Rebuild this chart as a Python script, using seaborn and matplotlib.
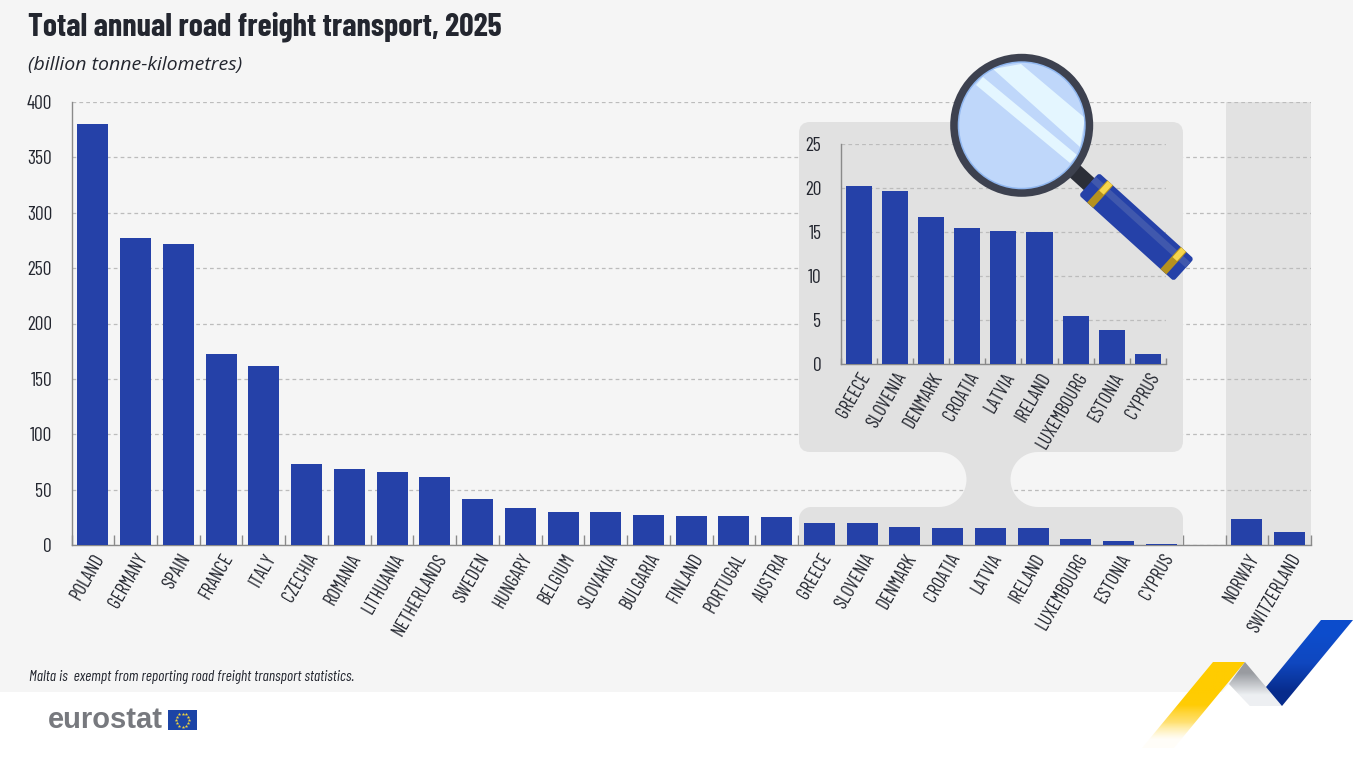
import numpy as np
import pandas as pd
import seaborn as sns
import matplotlib.pyplot as plt
from matplotlib.patches import Circle, FancyBboxPatch, Polygon, Rectangle
from matplotlib.transforms import Affine2D

countries = ["POLAND", "GERMANY", "SPAIN", "FRANCE", "ITALY", "CZECHIA", "ROMANIA", "LITHUANIA",
             "NETHERLANDS", "SWEDEN", "HUNGARY", "BELGIUM", "SLOVAKIA", "BULGARIA", "FINLAND",
             "PORTUGAL", "AUSTRIA", "GREECE", "SLOVENIA", "DENMARK", "CROATIA", "LATVIA", "IRELAND",
             "LUXEMBOURG", "ESTONIA", "CYPRUS", " ", "NORWAY", "SWITZERLAND"]
freight = [380.5, 277, 272, 172.5, 162, 73.5, 69, 66, 61.5, 41.5, 33.5, 29.5, 29.5, 27, 26, 26, 25.5,
           20.2, 19.6, 16.7, 15.4, 15.1, 15.0, 5.5, 3.9, 1.1, np.nan, 23.5, 12]
main_ticks = [0, 50, 100, 150, 200, 250, 300, 350, 400]

small_countries = ["GREECE", "SLOVENIA", "DENMARK", "CROATIA", "LATVIA", "IRELAND",
                   "LUXEMBOURG", "ESTONIA", "CYPRUS"]
small_freight = [20.2, 19.6, 16.7, 15.4, 15.1, 15.0, 5.5, 3.9, 1.1]
small_ticks = [0, 5, 10, 15, 20, 25]

BAR = "#2541a8"
PANEL = "#f5f5f5"
GREY = "#e1e1e1"
DARK = "#23262f"
W, H = 1366, 763

sns.set_theme(style="white")
narrow = ["Barlow Condensed", "Archivo Narrow", "Lato", "DejaVu Sans"]
plt.rcParams["font.family"] = narrow

fig = plt.figure(figsize=(W / 100, H / 100), dpi=100, facecolor="white")
pix = Affine2D().scale(1, -1).translate(0, H)  # pixel coords, y going down


def axes_px(x0, y0, x1, y1, **kw):
    return fig.add_axes([x0 / W, 1 - y1 / H, (x1 - x0) / W, (y1 - y0) / H], **kw)


def draw_bars(ax, names, values, ticks, top, pad, tick_len):
    df = pd.DataFrame({"name": names, "value": values})
    sns.barplot(data=df, x="name", y="value", color=BAR, saturation=1, width=0.725, ax=ax, zorder=3, linewidth=0)
    ax.set_facecolor("none")
    ax.set_xlim(-0.5, len(names) - 0.5)
    ax.set_ylim(0, top)
    ax.set_xlabel("")
    ax.set_ylabel("")
    ax.set_yticks(ticks)
    ax.yaxis.grid(True, color="#bcbcbc", lw=0.9, ls=(0, (3, 2.5)))
    ax.set_axisbelow(True)
    ax.tick_params(axis="y", length=0, pad=pad, labelsize=14, labelcolor=DARK)
    ax.tick_params(axis="x", which="major", length=0, pad=4, labelsize=13.5, labelcolor=DARK)
    ax.set_xticks(np.arange(-0.5, len(names)), minor=True)
    ax.tick_params(axis="x", which="minor", bottom=True, direction="in", length=tick_len, width=1, color="#8a8a8a")
    for lab in ax.get_xticklabels():
        lab.set_rotation(60)
        lab.set_ha("right")
        lab.set_va("top")
        lab.set_rotation_mode("anchor")
    for side in ["top", "right"]:
        ax.spines[side].set_visible(False)
    for side in ["left", "bottom"]:
        ax.spines[side].set_color("#8a8a8a")
        ax.spines[side].set_linewidth(1)


# page background with the notch for the ribbons
bg = axes_px(0, 0, W, H, zorder=0)
bg.set_xlim(0, W)
bg.set_ylim(H, 0)
bg.axis("off")
bg.add_patch(Polygon([(0, 0), (1353, 0), (1353, 620), (1282, 706), (1250, 706), (1229, 684),
                      (1222, 692), (0, 692)], color=PANEL, lw=0))

# main chart
ax = axes_px(71.5, 102, 1311, 545, zorder=1)
draw_bars(ax, countries, freight, main_ticks, 400, 14, 7)
ax.add_patch(Rectangle((1226, 102), 85, 443, transform=pix, color="#e2e2e2", lw=0, zorder=0.2, clip_on=False))

# grey zoom panels, above the gridlines but below the bars
ax.add_patch(FancyBboxPatch((809, 132), 364, 310, boxstyle="round,pad=10,rounding_size=11", transform=pix,
                            color=GREY, lw=0, zorder=2, clip_on=False))
t = np.linspace(-np.pi / 2, np.pi / 2, 30)
r = 27.5
neck_l = np.c_[939 + r * np.cos(t), 479.5 + r * np.sin(t)]
neck_r = np.c_[1038 - r * np.cos(t[::-1]), 479.5 + r * np.sin(t[::-1])]
ax.add_patch(Polygon(np.r_[neck_l, neck_r], transform=pix, color=GREY, lw=0, zorder=2, clip_on=False))
a = np.linspace(0, np.pi / 2, 12)
r = 12
lower = np.r_[[(799, 545)],
              np.c_[799 + r - r * np.cos(a), 507 + r - r * np.sin(a)],
              np.c_[1183 - r + r * np.sin(a), 507 + r - r * np.cos(a)],
              [(1183, 545)]]
ax.add_patch(Polygon(lower, transform=pix, color=GREY, lw=0, zorder=2, clip_on=False))

# inset chart
inset = axes_px(840.7, 143.7, 1166, 364, zorder=2)
draw_bars(inset, small_countries, small_freight, small_ticks, 25, 14, 4)

# everything drawn on top in pixel coords
top = axes_px(0, 0, W, H, zorder=3)
top.set_facecolor("none")
top.axis("off")

# titles and notes
top.text(28, 27, "Total annual road freight transport, 2025", fontsize=23, fontweight="bold",
         color=DARK, va="center", family=narrow)
top.text(28, 65, "(billion tonne-kilometres)", fontsize=14, style="italic", color=DARK,
         va="center", family=["Open Sans", "DejaVu Sans"])
top.text(29, 677, "Malta is  exempt from reporting road freight transport statistics.", fontsize=11,
         style="italic", color=DARK, va="center", family=narrow)

# eurostat logo
top.text(48, 720, "eurostat", fontsize=21, fontweight="bold", color="#77797e", va="center",
         family=["Liberation Sans", "DejaVu Sans"])
top.add_patch(Rectangle((168, 710), 29, 20, color="#1c44a6", lw=0))
ang = np.arange(12) * np.pi / 6
top.scatter(182.5 + 6.5 * np.cos(ang), 720 + 6.5 * np.sin(ang), marker="*", s=7, color="#f2d43c", lw=0)


# ribbons with fades
def ribbon(points, colours, extent):
    poly = Polygon(points, transform=top.transData, fc="none", ec="none")
    top.add_patch(poly)
    img = np.array(colours, dtype=float)[:, None, :]
    im = top.imshow(img, extent=extent, aspect="auto", interpolation="bilinear", zorder=2)
    im.set_clip_path(poly)


ribbon([(1213, 662), (1245, 662), (1174, 748), (1142, 748)],
       [(1, .8, 0, 1), (1, .8, 0, 1), (1, .8, .02, 1), (1, .83, .2, .7), (1, .9, .5, 0.05)], (1142, 1245, 748, 662))
ribbon([(1245, 662), (1229, 684), (1250, 706), (1282, 706)],
       [(.6, .61, .63, 1), (.93, .94, .95, 1)], (1229, 1282, 706, 662))
ribbon([(1321, 620), (1353, 620), (1282, 706), (1266, 687)],
       [(.05, .3, .8, 1), (.06, .28, .75, 1), (.03, .17, .55, 1)], (1266, 1353, 706, 620))

# magnifying glass
cx, cy = 1021.7, 125.3
dx, dy = 1089, 184
angle = 42.2
hand = Affine2D().rotate_deg(angle).translate(dx, dy) + top.transData
top.add_patch(Rectangle((-24, -8), 26, 16, transform=hand, color="#2b2e38", lw=0, zorder=3))
top.add_patch(FancyBboxPatch((2, -13), 124, 26, boxstyle="round,pad=2,rounding_size=3", transform=hand,
                             color="#2541a8", lw=0, zorder=3))
top.add_patch(Rectangle((0, -10), 128, 7, transform=hand, color="#4058ad", lw=0, zorder=3.1))
for u in [11, 110]:
    top.add_patch(Rectangle((u, -15), 8, 30, transform=hand, color="#b5911f", lw=0, zorder=3.2))
    top.add_patch(Rectangle((u + 1, -15), 6, 13, transform=hand, color="#f6d54c", lw=0, zorder=3.3))
top.add_patch(Circle((cx, cy), 71.5, color="#3d414f", lw=0, zorder=4))
top.add_patch(Circle((cx, cy), 64, color="#8fb6ef", lw=0, zorder=4.1))
lens = Circle((cx, cy), 62.5, color="#bfd7fa", lw=0, zorder=4.2)
top.add_patch(lens)
for band in [[(1021, 64), (1085, 118), (1080, 147), (993, 69)],
             [(983, 77), (1077, 155), (1070, 163), (976, 85)]]:
    p = Polygon(band, color="#e4f6ff", lw=0, zorder=4.3)
    top.add_patch(p)
    p.set_clip_path(lens)

top.set_xlim(0, W)
top.set_ylim(H, 0)

fig.savefig("out.png", dpi=100, facecolor="white")
